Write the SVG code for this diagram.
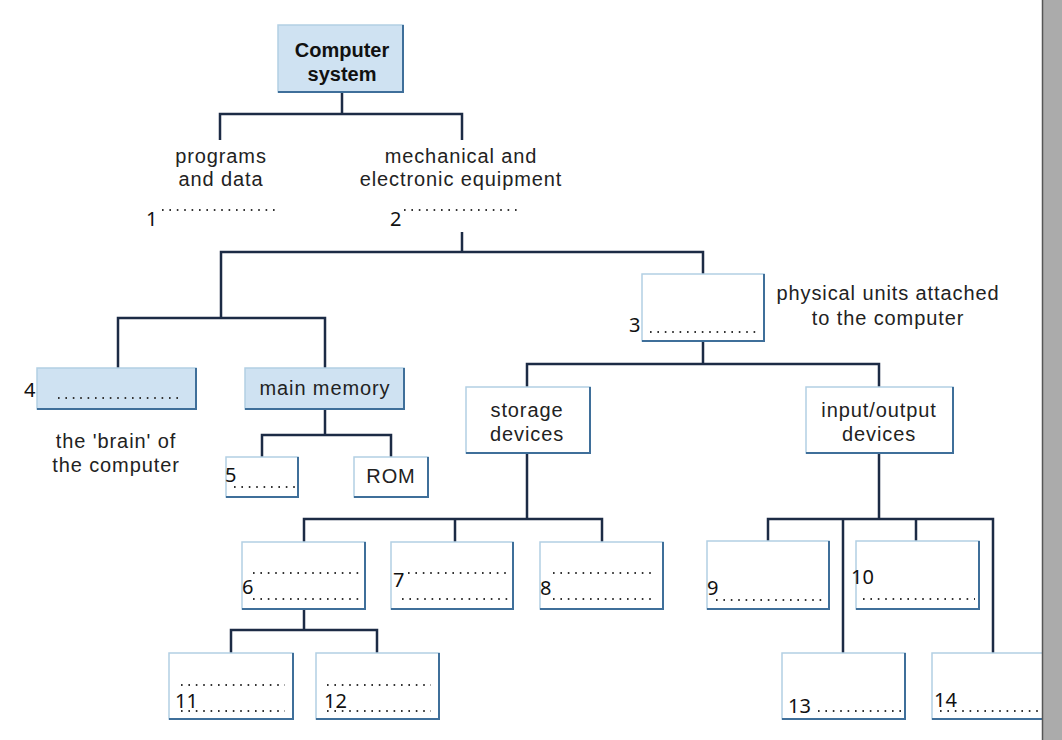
<svg xmlns="http://www.w3.org/2000/svg" width="1062" height="740" viewBox="0 0 1062 740">
<style>
.ln{stroke:#1c2b45;stroke-width:2.5;fill:none}
.box{fill:#fff;stroke:#b3cfe4;stroke-width:1.5}
.blue{fill:#cfe2f2}
.sh{stroke:#3f6f9a;stroke-width:2;fill:none}
.t{font-family:"Liberation Sans",Arial,sans-serif;font-size:20px;letter-spacing:0.9px;fill:#222;text-anchor:middle}
.b{font-family:"Liberation Sans",Arial,sans-serif;font-size:20px;font-weight:bold;fill:#111;text-anchor:middle}
.n{font-family:"Noto Sans","Open Sans",sans-serif;font-size:20px;fill:#111}
.d{stroke:#333;stroke-width:2.2;stroke-dasharray:1.6 5.8;fill:none}
</style>
<rect width="1062" height="740" fill="#fff"/>
<g id="connectors">
<path class="ln" d="M342 92V114M220 140V114H462V140"/>
<path class="ln" d="M462 232V252M221 318V252H703V274"/>
<path class="ln" d="M118 368V318H325V368"/>
<path class="ln" d="M703 341V364M527 387V364H879V387"/>
<path class="ln" d="M325 409V435M262 457V435H391V457"/>
<path class="ln" d="M527 453V519M304 542V519H602V542M455 519V542"/>
<path class="ln" d="M304 609V630M231 653V630H377V653"/>
<path class="ln" d="M879 453V519M768 541V519H993V653M843 519V653M916 519V541"/>
</g>
<g id="computer-system">
<rect class="box blue" x="278" y="25" width="125" height="67"/>
<path class="sh" d="M403 25V92H278"/>
<text class="b" x="342" y="57">Computer</text>
<text class="b" x="342" y="81">system</text>
</g>
<g id="programs-data">
<text class="t" x="221" y="163">programs</text>
<text class="t" x="221" y="186">and data</text>
<text class="n" x="146" y="226">1</text>
<line class="d" x1="162" y1="210" x2="280" y2="210"/>
</g>
<g id="equipment">
<text class="t" x="461" y="163">mechanical and</text>
<text class="t" x="461" y="186">electronic equipment</text>
<text class="n" x="390" y="226">2</text>
<line class="d" x1="404" y1="210" x2="521" y2="210"/>
</g>
<g id="n3">
<rect class="box" x="642" y="274" width="122" height="67"/>
<path class="sh" d="M764 274V341H642"/>
<rect x="630" y="315" width="11" height="19" fill="#fff"/>
<text class="n" x="629" y="332">3</text>
<line class="d" x1="650" y1="332" x2="758" y2="332"/>
<text class="t" x="888" y="300">physical units attached</text>
<text class="t" x="888" y="325">to the computer</text>
</g>
<g id="n4">
<rect class="box blue" x="37" y="368" width="159" height="41"/>
<path class="sh" d="M196 368V409H37"/>
<text class="n" x="24" y="397">4</text>
<line class="d" x1="58" y1="398" x2="178" y2="398"/>
<text class="t" x="116" y="448">the 'brain' of</text>
<text class="t" x="116" y="472">the computer</text>
</g>
<g id="main-memory">
<rect class="box blue" x="245" y="368" width="159" height="41"/>
<path class="sh" d="M404 368V409H245"/>
<text class="t" x="325" y="395">main memory</text>
</g>
<g id="n5">
<rect class="box" x="226" y="457" width="72" height="40"/>
<path class="sh" d="M298 457V497H226"/>
<text class="n" x="225" y="482">5</text>
<line class="d" x1="234" y1="487" x2="297" y2="487"/>
</g>
<g id="rom">
<rect class="box" x="354" y="457" width="74" height="40"/>
<path class="sh" d="M428 457V497H354"/>
<text class="t" x="391" y="483">ROM</text>
</g>
<g id="storage">
<rect class="box" x="466" y="387" width="124" height="66"/>
<path class="sh" d="M590 387V453H466"/>
<text class="t" x="527" y="417">storage</text>
<text class="t" x="527" y="441">devices</text>
</g>
<g id="io">
<rect class="box" x="806" y="387" width="147" height="66"/>
<path class="sh" d="M953 387V453H806"/>
<text class="t" x="879" y="417">input/output</text>
<text class="t" x="879" y="441">devices</text>
</g>
<g id="n6">
<rect class="box" x="242" y="542" width="123" height="67"/>
<path class="sh" d="M365 542V609H242"/>
<text class="n" x="242" y="594">6</text>
<line class="d" x1="253" y1="573" x2="359" y2="573"/>
<line class="d" x1="253" y1="599" x2="359" y2="599"/>
</g>
<g id="n7">
<rect class="box" x="391" y="542" width="122" height="67"/>
<path class="sh" d="M513 542V609H391"/>
<text class="n" x="393" y="587">7</text>
<line class="d" x1="408" y1="573" x2="508" y2="573"/>
<line class="d" x1="402" y1="599" x2="508" y2="599"/>
</g>
<g id="n8">
<rect class="box" x="540" y="542" width="123" height="67"/>
<path class="sh" d="M663 542V609H540"/>
<text class="n" x="540" y="595">8</text>
<line class="d" x1="553" y1="573" x2="656" y2="573"/>
<line class="d" x1="553" y1="599" x2="656" y2="599"/>
</g>
<g id="n9">
<rect class="box" x="707" y="541" width="122" height="68"/>
<path class="sh" d="M829 541V609H707"/>
<text class="n" x="707" y="595">9</text>
<line class="d" x1="716" y1="600" x2="827" y2="600"/>
</g>
<g id="n10">
<rect class="box" x="856" y="541" width="123" height="68"/>
<path class="sh" d="M979 541V609H856"/>
<text class="n" x="851" y="584">10</text>
<line class="d" x1="863" y1="599" x2="975" y2="599"/>
</g>
<g id="n11">
<rect class="box" x="169" y="653" width="124" height="66"/>
<path class="sh" d="M293 653V719H169"/>
<text class="n" x="175" y="708">11</text>
<line class="d" x1="181" y1="685" x2="285" y2="685"/>
<line class="d" x1="181" y1="711" x2="285" y2="711"/>
</g>
<g id="n12">
<rect class="box" x="316" y="653" width="123" height="66"/>
<path class="sh" d="M439 653V719H316"/>
<text class="n" x="324" y="708">12</text>
<line class="d" x1="327" y1="685" x2="431" y2="685"/>
<line class="d" x1="327" y1="711" x2="431" y2="711"/>
</g>
<g id="n13">
<rect class="box" x="782" y="653" width="123" height="66"/>
<path class="sh" d="M905 653V719H782"/>
<text class="n" x="788" y="713">13</text>
<line class="d" x1="818" y1="711" x2="901" y2="711"/>
</g>
<g id="n14">
<rect class="box" x="932" y="653" width="130" height="66"/>
<path class="sh" d="M1062 719H932"/>
<text class="n" x="934" y="707">14</text>
<line class="d" x1="940" y1="711" x2="1042" y2="711"/>
</g>
<rect x="1042" y="0" width="20" height="740" fill="#ababab"/>
<line x1="1042.5" y1="0" x2="1042.5" y2="740" stroke="#555" stroke-width="1.5"/>
</svg>
